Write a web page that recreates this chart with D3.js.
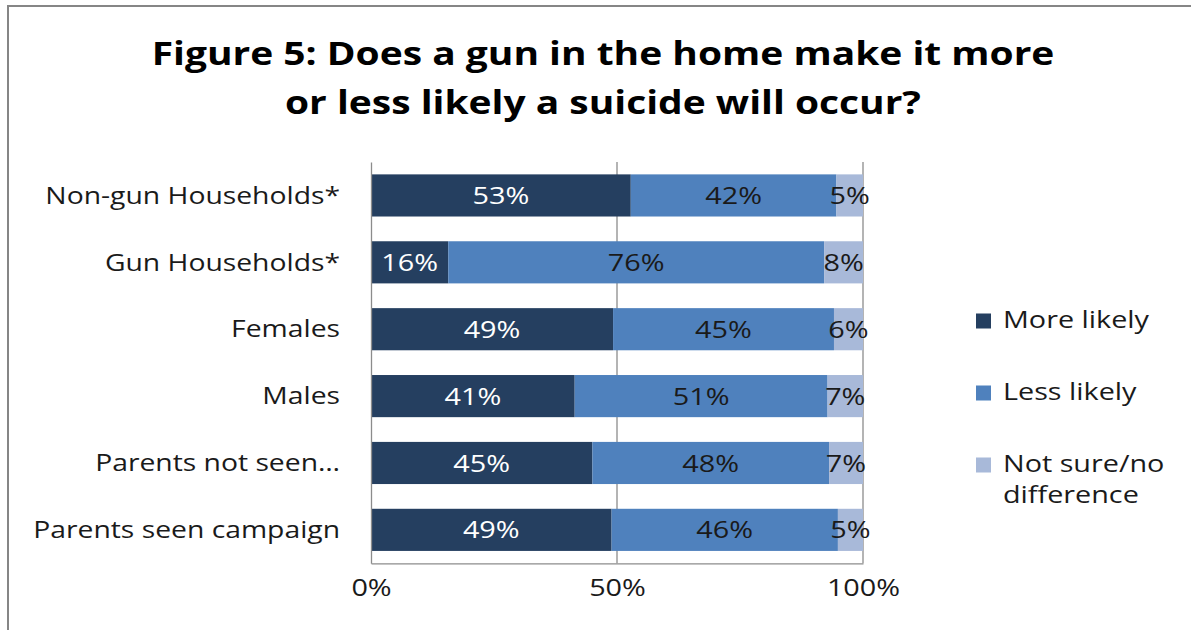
<!DOCTYPE html>
<html><head><meta charset="utf-8">
<script src="https://cdn.jsdelivr.net/npm/d3@7"></script>
<style>
html,body{margin:0;padding:0;background:#fff;overflow:hidden}
text{font-family:"Open Sans",sans-serif;}
</style></head>
<body><svg id="chart" width="1191" height="630"></svg>
<script>
const categories = ["Non-gun Households*","Gun Households*","Females","Males","Parents not seen\u2026","Parents seen campaign"];
const seriesNames = ["More likely","Less likely","Not sure/no difference"];
const moreLikely = [52.8, 15.7, 49.2, 41.4, 45.0, 48.9];
const lessLikely = [41.8, 76.4, 44.9, 51.4, 48.1, 46.0];
const notSure    = [5.4, 7.9, 5.9, 7.2, 6.9, 5.1];
const xTicks = [0, 50, 100];
const titleLines = ["Figure 5: Does a gun in the home make it more", "or less likely a suicide will occur?"];

const colors = ["#253f60", "#4f81bd", "#a8b9d9"];
const labelColors = ["#ffffff", "#1a1a1a", "#1a1a1a"];
const S = 1.2; // horizontal text stretch

const svg = d3.select("#chart");
function stretch(sel, s){
  sel.each(function(){
    const w = this.getComputedTextLength();
    this.setAttribute("textLength", w*s);
    this.setAttribute("lengthAdjust","spacingAndGlyphs");
  });
}

// outer border
svg.append("rect").attr("x",8).attr("y",6).attr("width",1400).attr("height",800)
  .attr("fill","none").attr("stroke","#868686").attr("stroke-width",2);

// title
const tt = svg.append("g").selectAll("text").data(titleLines).join("text")
  .attr("x",603).attr("y",(d,i)=>65+i*49)
  .attr("text-anchor","middle").attr("font-weight",700).attr("font-size",33)
  .attr("fill","#000").text(d=>d);
stretch(tt, 1.18);

const x = d3.scaleLinear().domain([0,100]).range([371,863]);
const y = d3.scaleBand().domain(categories).range([162,563.3]).paddingInner(0.37).paddingOuter(0.185);

const rows = categories.map((c,i)=>({cat:c, "More likely":moreLikely[i], "Less likely":lessLikely[i], "Not sure/no difference":notSure[i]}));
const stacked = d3.stack().keys(seriesNames)(rows);

// gridlines
svg.append("g").selectAll("line").data(xTicks.filter(d=>d>0)).join("line")
  .attr("x1",d=>x(d)).attr("x2",d=>x(d)).attr("y1",162).attr("y2",563.3)
  .attr("stroke","#8c8c8c").attr("stroke-width",1.3);

// bars
const layers = svg.append("g").selectAll("g").data(stacked).join("g")
  .attr("fill",(d,i)=>colors[i]);
layers.selectAll("rect").data(d=>d).join("rect")
  .attr("x",d=>x(d[0])).attr("width",d=>x(d[1])-x(d[0]))
  .attr("y",d=>y(d.data.cat)).attr("height",y.bandwidth());

// axes
const gx = svg.append("g").attr("transform","translate(0,563.3)")
  .call(d3.axisBottom(x).tickValues(xTicks).tickFormat(d=>d+"%").tickSize(0).tickPadding(30).tickSizeOuter(0));
gx.select(".domain").attr("stroke","#8c8c8c").attr("stroke-width",1.3);
gx.selectAll("text").attr("font-size",24).attr("fill","#1a1a1a").attr("font-family","Open Sans").attr("dy","0.1em");
stretch(gx.selectAll("text"), S);

const gy = svg.append("g").attr("transform","translate(371,0)")
  .call(d3.axisLeft(y).tickSize(0).tickPadding(31).tickSizeOuter(0));
gy.select(".domain").attr("stroke","#8c8c8c").attr("stroke-width",1.3);
gy.selectAll("text").attr("font-size",23).attr("fill","#1a1a1a").attr("font-family","Open Sans").attr("dy","0.36em");
stretch(gy.selectAll("text"), 1.23);

// data labels
const lbl = svg.append("g").selectAll("g").data(stacked).join("g")
  .attr("fill",(d,i)=>labelColors[i]);
const lt = lbl.selectAll("text").data(d=>d).join("text")
  .attr("x",d=>(x(d[0])+x(d[1]))/2).attr("y",d=>y(d.data.cat)+y.bandwidth()/2)
  .attr("dy","0.36em").attr("text-anchor","middle").attr("font-size",24)
  .text(d=>Math.round(d[1]-d[0])+"%");
stretch(lt, S);

// legend
const leg = svg.append("g").selectAll("g").data(seriesNames).join("g")
  .attr("transform",(d,i)=>`translate(976,${321+i*72})`);
leg.append("rect").attr("x",0).attr("y",-7.5).attr("width",15).attr("height",15)
  .attr("fill",(d,i)=>colors[i]);
const legText = leg.append("text").attr("x",27).attr("y",7).attr("font-size",23).attr("fill","#1a1a1a");
legText.each(function(d){
  const words = d === "Not sure/no difference" ? ["Not sure/no","difference"] : [d];
  d3.select(this).selectAll("tspan").data(words).join("tspan")
    .attr("x",27).attr("dy",(w,j)=>j?31:0).text(w=>w);
});
legText.selectAll("tspan").each(function(){
  const w = this.getComputedTextLength();
  this.setAttribute("textLength", w*1.25);
  this.setAttribute("lengthAdjust","spacingAndGlyphs");
});
</script></body></html>
